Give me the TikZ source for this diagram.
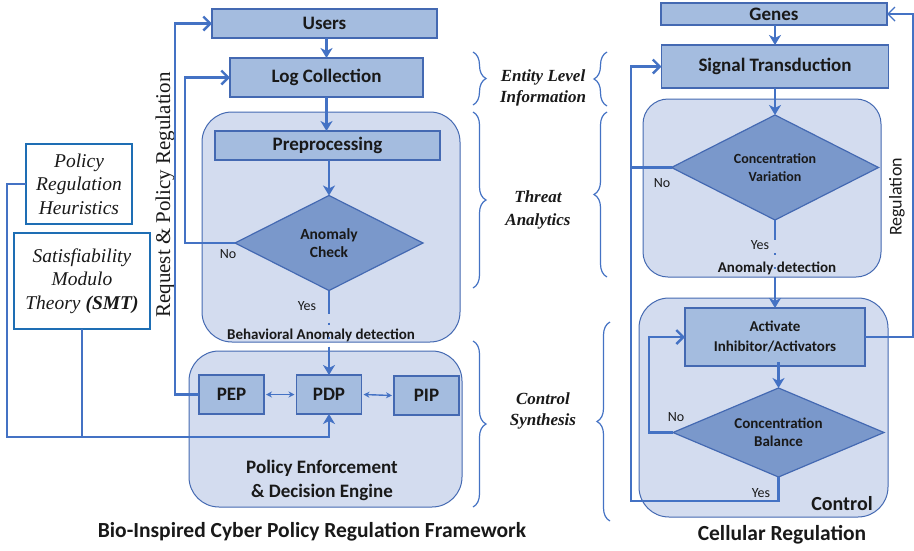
\documentclass[tikz,border=0pt]{standalone}
\usepackage{fontspec}
\setmainfont{Liberation Serif}
\setsansfont{Carlito}
\usetikzlibrary{shapes.geometric,arrows.meta,decorations.pathreplacing,calc}

\definecolor{boxfill}{RGB}{164,188,223}
\definecolor{boxline}{RGB}{68,105,178}
\definecolor{panelfill}{RGB}{211,220,239}
\definecolor{diafill}{RGB}{122,152,203}
\definecolor{wire}{RGB}{68,114,196}
\definecolor{sidebox}{RGB}{30,110,180}
\definecolor{ink}{RGB}{25,25,25}

\tikzset{
  every node/.style={inner sep=0pt, outer sep=0pt, text=ink},
  panel/.style={draw=boxline, fill=panelfill, line width=1pt, rounded corners=30pt},
  box/.style={draw=boxline, fill=boxfill, line width=1.2pt,
    font=\sffamily\bfseries\fontsize{19}{22}\selectfont},
  smallbox/.style={box, align=center, font=\sffamily\bfseries\fontsize{15}{20}\selectfont},
  dia/.style={diamond, aspect=2, draw=boxline, fill=diafill, line width=1.2pt, align=center,
    font=\sffamily\bfseries\fontsize{14}{18}\selectfont},
  side/.style={draw=sidebox, fill=white, line width=2.6pt, align=center,
    font=\itshape\fontsize{19.5}{23.5}\selectfont},
  wire/.style={draw=wire, line width=2.4pt},
  thinwire/.style={draw=wire, line width=1.4pt},
  barb/.style={-{Straight Barb[length=7pt,width=14pt]}},
  downtip/.style={-{Stealth[length=10pt,width=12pt,inset=3pt]}},
  twotip/.style={{Stealth[length=6pt,width=6pt]}-{Stealth[length=6pt,width=6pt]}},
  brace/.style={draw=wire, line width=1.2pt, decorate, decoration={brace, amplitude=13pt}},
  tag/.style={align=center, font=\bfseries\itshape\fontsize{17}{21}\selectfont},
  yesno/.style={font=\sffamily\fontsize{14}{16}\selectfont},
  note/.style={font=\sffamily\bfseries\fontsize{15}{16}\selectfont},
}

\begin{document}
\begin{tikzpicture}[x=1pt,y=-1pt]
\path[use as bounding box, fill=white] (0,0) rectangle (914,550);

% ---------- cyber framework (left) ----------
\node[panel, minimum width=258pt, minimum height=230pt] (threatL) at (331,227) {};
\node[panel, minimum width=273pt, minimum height=156pt] (engine) at (325.5,429) {};

\node[box, minimum width=225pt, minimum height=29pt] (users) at (324.5,23.5) {Users};
\node[box, minimum width=193pt, minimum height=39pt] (logc) at (326.5,77.5) {Log Collection};
\node[box, minimum width=225pt, minimum height=29pt] (prep) at (327.5,145.5) {Preprocessing};
\node[dia, font=\sffamily\bfseries\fontsize{15.5}{18}\selectfont, minimum width=188pt, minimum height=95pt]
  (anom) at (329,243) {Anomaly\\Check};

\node[box, minimum width=65pt, minimum height=39pt] (pep) at (231.5,394.5) {PEP};
\node[box, minimum width=65pt, minimum height=39pt] (pdp) at (329,394.5) {PDP};
\node[box, minimum width=65pt, minimum height=39pt] (pip) at (426.5,395.5) {PIP};

\node[side, minimum width=106pt, minimum height=80pt] (heur) at (79,184)
  {Policy\\Regulation\\Heuristics};
\node[side, minimum width=136pt, minimum height=96pt] (smt) at (82,281)
  {Satisfiability\\Modulo\\Theory \textbf{(SMT)}};

\node[yesno] (noL) at (228,254) {No};
\node[yesno] (yesL) at (307,306) {Yes};
\node[note] (bad) at (321,335) {Behavioral Anomaly detection};
\node[align=center, font=\sffamily\bfseries\fontsize{19}{24}\selectfont] (pede) at (322,480)
  {Policy Enforcement\\\& Decision Engine};
\node[font=\sffamily\bfseries\fontsize{21.5}{24}\selectfont] (titleL) at (312,532)
  {Bio-Inspired Cyber Policy Regulation Framework};
\node[rotate=90, font=\fontsize{21}{24}\selectfont] (req) at (165,195)
  {Request \& Policy Regulation};

% flow of the left column
\draw[wire, downtip] (logc.north |- users.south) -- (logc.north);
\draw[wire, downtip] (logc.south) -- (logc.south |- prep.north);
\draw[wire, downtip] (anom.north |- prep.south) -- (anom.north);
\draw[wire, downtip, dash pattern=on 23pt off 9pt on 2pt off 12pt on 2pt off 8pt on 60pt]
  (anom.south) -- (pdp.north);
\draw[wire, barb] (anom.west) -- ++(-50,0) |- (logc.west);
\draw[wire, barb] (pep.west) -- ++(-24,0) |- (users.west);
\draw[thinwire, twotip] ([xshift=2pt]pep.east) -- ([xshift=-2pt]pdp.west);
\draw[thinwire, twotip] ([xshift=2pt]pdp.east) -- ([xshift=-2pt]pip.west);
\coordinate (bus) at (329,437);
\draw[wire, downtip] (heur.west) -- ++(-19,0) |- (bus) -- (pdp.south);
\draw[wire] (smt.south) -- (smt.south |- bus);

% ---------- braces and stage labels (middle) ----------
\draw[brace] (473,52) -- (473,105);
\draw[brace] (607,106) -- (607,52);
\node[tag] (entity) at (543,88) {Entity Level\\Information};

\draw[brace] (473,112) -- (473,288);
\draw[brace] (607,277) -- (607,112);
\node[tag, font=\bfseries\itshape\fontsize{17}{23}\selectfont] (threat) at (538,210) {Threat\\Analytics};

\draw[brace] (473,341) -- (473,507);
\draw[brace] (610,521) -- (610,322);
\node[tag] (synth) at (543,411) {Control\\Synthesis};

% ---------- cellular regulation (right) ----------
\node[panel, rounded corners=25pt, minimum width=238pt, minimum height=178pt] (threatR) at (762,188) {};
\node[panel, minimum width=249pt, minimum height=219pt] (ctrl) at (763.5,407.5) {};

\node[box, minimum width=226pt, minimum height=22pt] (genes) at (774,14) {Genes};
\node[box, minimum width=227pt, minimum height=43pt] (sig) at (775,66.5) {Signal Transduction};
\node[dia, minimum width=207pt, minimum height=105pt] (cv) at (775,167.5) {Concentration\\Variation};
\node[smallbox, minimum width=180pt, minimum height=58pt] (act) at (775,337)
  {Activate\\Inhibitor/Activators};
\node[dia, font=\sffamily\bfseries\fontsize{15}{18}\selectfont, minimum width=211pt, minimum height=89pt]
  (cb) at (778.5,432.5) {Concentration\\Balance};

\node[yesno] (noR1) at (662,183) {No};
\node[yesno] (yesR1) at (760,245) {Yes};
\node[note] (adR) at (777,268) {Anomaly detection};
\node[yesno] (noR2) at (676,417) {No};
\node[yesno] (yesR2) at (761,493) {Yes};
\node[font=\sffamily\bfseries\fontsize{20}{22}\selectfont] (ctrlname) at (842,504) {Control};
\node[font=\sffamily\bfseries\fontsize{21.5}{24}\selectfont] (titleR) at (782,535) {Cellular Regulation};
\node[rotate=90, font=\sffamily\fontsize{18}{20}\selectfont] (regR) at (897,197) {Regulation};

% flow of the right column
\draw[wire, downtip] (sig.north |- genes.south) -- (sig.north);
\draw[wire, downtip] (sig.south) -- (cv.north);
\draw[wire, downtip, dash pattern=on 20pt off 13pt on 2pt off 12pt on 2pt off 8pt on 60pt]
  (cv.south) -- (act.north);
\draw[wire, downtip] ([yshift=4pt]act.south -| cb.north) -- (cb.north);
\coordinate (loop) at (631,501);
\draw[wire, barb] (cb.south) |- (loop) |- (sig.west);
\draw[wire] (cv.west) -- (cv.west -| loop);
\draw[wire, barb] (cb.west) -- ++(-24,0) |- (act.west);
\draw[thinwire, barb] (act.east) -- (913,337) |- (genes.east);

\end{tikzpicture}
\end{document}
